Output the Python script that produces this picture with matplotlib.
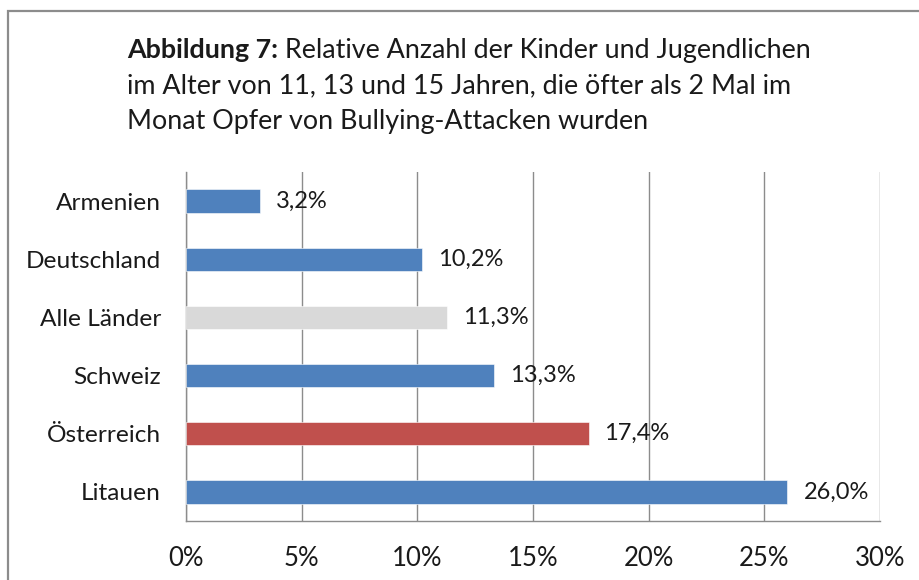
import matplotlib
matplotlib.use("Agg")
import matplotlib.pyplot as plt
from matplotlib.patches import Rectangle

categories = ["Armenien", "Deutschland", "Alle Länder", "Schweiz", "Österreich", "Litauen"]
values = [3.2, 10.2, 11.3, 13.3, 17.4, 26.0]
colors = ["#4F81BD", "#4F81BD", "#D9D9D9", "#4F81BD", "#C0504D", "#4F81BD"]
xticks = [0, 5, 10, 15, 20, 25, 30]
xticklabels = ["0%", "5%", "10%", "15%", "20%", "25%", "30%"]
title_bold = "Abbildung 7:"
title_rest1 = " Relative Anzahl der Kinder und Jugendlichen"
title_line2 = "im Alter von 11, 13 und 15 Jahren, die öfter als 2 Mal im"
title_line3 = "Monat Opfer von Bullying-Attacken wurden"

FONT = "Lato"
TXT = "#1a1a1a"
TS = 19.4
W, H = 920, 580
fig = plt.figure(figsize=(W / 100, H / 100), dpi=100)
fig.patch.set_facecolor("white")

# outer border
fig.add_artist(Rectangle((8 / W, -0.2), 2.0, 1.2 - 11 / H, transform=fig.transFigure,
                         fill=False, edgecolor="#8c8c8c", linewidth=1.6))

ax = fig.add_axes([186 / W, (H - 521) / H, (880 - 186) / W, (521 - 172) / H])
y = list(range(len(categories)))
ax.barh(y, values, height=0.4, color=colors, edgecolor="white", linewidth=0.4, zorder=3)
ax.set_ylim(len(categories) - 0.5, -0.5)
ax.set_xlim(0, 30)
ax.set_xticks(xticks)
ax.set_xticklabels(xticklabels, fontsize=18.5, family=FONT, color=TXT)
ax.set_yticks(y)
ax.set_yticklabels(categories, fontsize=17.6, family=FONT, color=TXT)
ax.tick_params(axis="x", length=0, pad=18)
ax.tick_params(axis="y", length=0, pad=18)
ax.grid(axis="x", color="#8c8c8c", linewidth=1.0, zorder=0)
for s in ["top", "right"]:
    ax.spines[s].set_visible(False)
for s in ["left", "bottom"]:
    ax.spines[s].set_color("#8c8c8c")
    ax.spines[s].set_linewidth(1.0)

for yi, v in zip(y, values):
    ax.annotate(f"{v:.1f}%".replace(".", ","), (v, yi), xytext=(11.5, 0),
                textcoords="offset points", va="center", ha="left",
                fontsize=17, family=FONT, color=TXT, zorder=4)

# title
x0 = 127 / W
t1 = fig.text(x0, 1 - 58 / H, title_bold, fontsize=TS, fontweight="bold", family=FONT,
              color=TXT, va="baseline", ha="left")
fig.canvas.draw()
bb = t1.get_window_extent(renderer=fig.canvas.get_renderer())
fig.text(bb.x1 / W, 1 - 58 / H, title_rest1, fontsize=TS, family=FONT, color=TXT,
         va="baseline", ha="left")
fig.text(x0, 1 - 93 / H, title_line2, fontsize=TS, family=FONT, color=TXT,
         va="baseline", ha="left")
fig.text(x0, 1 - 129 / H, title_line3, fontsize=TS, family=FONT, color=TXT,
         va="baseline", ha="left")

fig.savefig("out.png", dpi=100)
